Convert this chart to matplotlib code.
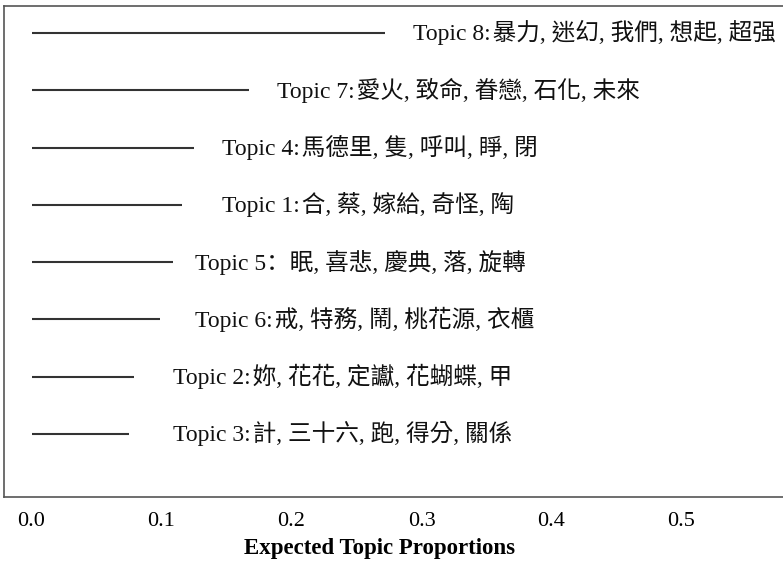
import matplotlib
matplotlib.use("Agg")
import matplotlib.pyplot as plt

plt.rcParams['font.family'] = ['Liberation Serif', 'Noto Sans CJK TC', 'DejaVu Sans']

# Data (top to bottom)
topic_labels = ["Topic 8:", "Topic 7:", "Topic 4:", "Topic 1:", "Topic 5：", "Topic 6:", "Topic 2:", "Topic 3:"]
proportions = [0.272, 0.167, 0.125, 0.116, 0.109, 0.099, 0.079, 0.075]
top_words = [
    "暴力, 迷幻, 我們, 想起, 超强",
    "愛火, 致命, 眷戀, 石化, 未來",
    "馬德里, 隻, 呼叫, 睜, 閉",
    "合, 蔡, 嫁給, 奇怪, 陶",
    "眠, 喜悲, 慶典, 落, 旋轉",
    "戒, 特務, 鬧, 桃花源, 衣櫃",
    "妳, 花花, 定讞, 花蝴蝶, 甲",
    "計, 三十六, 跑, 得分, 關係",
]
xticks = [0.0, 0.1, 0.2, 0.3, 0.4, 0.5]
xlabel = "Expected Topic Proportions"

# layout: x (data units) where each label text starts
label_x = [0.2935, 0.1888, 0.1463, 0.1463, 0.1258, 0.1258, 0.1091, 0.1091]

W, H = 783, 561
fig = plt.figure(figsize=(W / 100, H / 100), dpi=100)

# axes: left spine at px 4, x=0 at px 31.5, 1300 px per unit; right edge beyond figure
x0_px, scale = 31.5, 1300.0
xmin, xmax = (4 - x0_px) / scale, 0.6
left = 4 / W
right = (x0_px + xmax * scale) / W
top_px, bot_px = 6, 497
ax = fig.add_axes([left, 1 - bot_px / H, right - left, (bot_px - top_px) / H])

n = len(proportions)
ys = list(range(n, 0, -1))
for y, p, lx, lab, words in zip(ys, proportions, label_x, topic_labels, top_words):
    ax.plot([0, p], [y, y], color='#333333', lw=1.5, solid_capstyle='butt')
    if '：' in lab:
        fam = ['Liberation Serif', 'Noto Sans CJK SC', 'DejaVu Sans']
        s = f"{lab}{words}"
    else:
        fam = ['Liberation Serif', 'Noto Sans CJK TC', 'DejaVu Sans']
        s = f"{lab}\u200a{words}"
    ax.text(lx, y, s, ha='left', va='center', fontsize=17, color='#111111', family=fam)

ax.set_xlim(xmin, xmax)
ax.set_ylim(-0.1, n + 0.47)
ax.set_yticks([])
ax.set_xticks(xticks)
ax.set_xticklabels([f"{t:.1f}" for t in xticks], fontsize=16)
ax.tick_params(axis='x', length=0, pad=11)
ax.spines['right'].set_visible(False)
for sp in ['left', 'top', 'bottom']:
    ax.spines[sp].set_color('#555555')
    ax.spines[sp].set_linewidth(1.2)

ax.set_xlabel(xlabel, fontsize=16.5, fontweight='bold')
# center label at px 380
ax.xaxis.set_label_coords((380 / W - left) / (right - left), -0.083)

fig.savefig("out.png", dpi=100)
